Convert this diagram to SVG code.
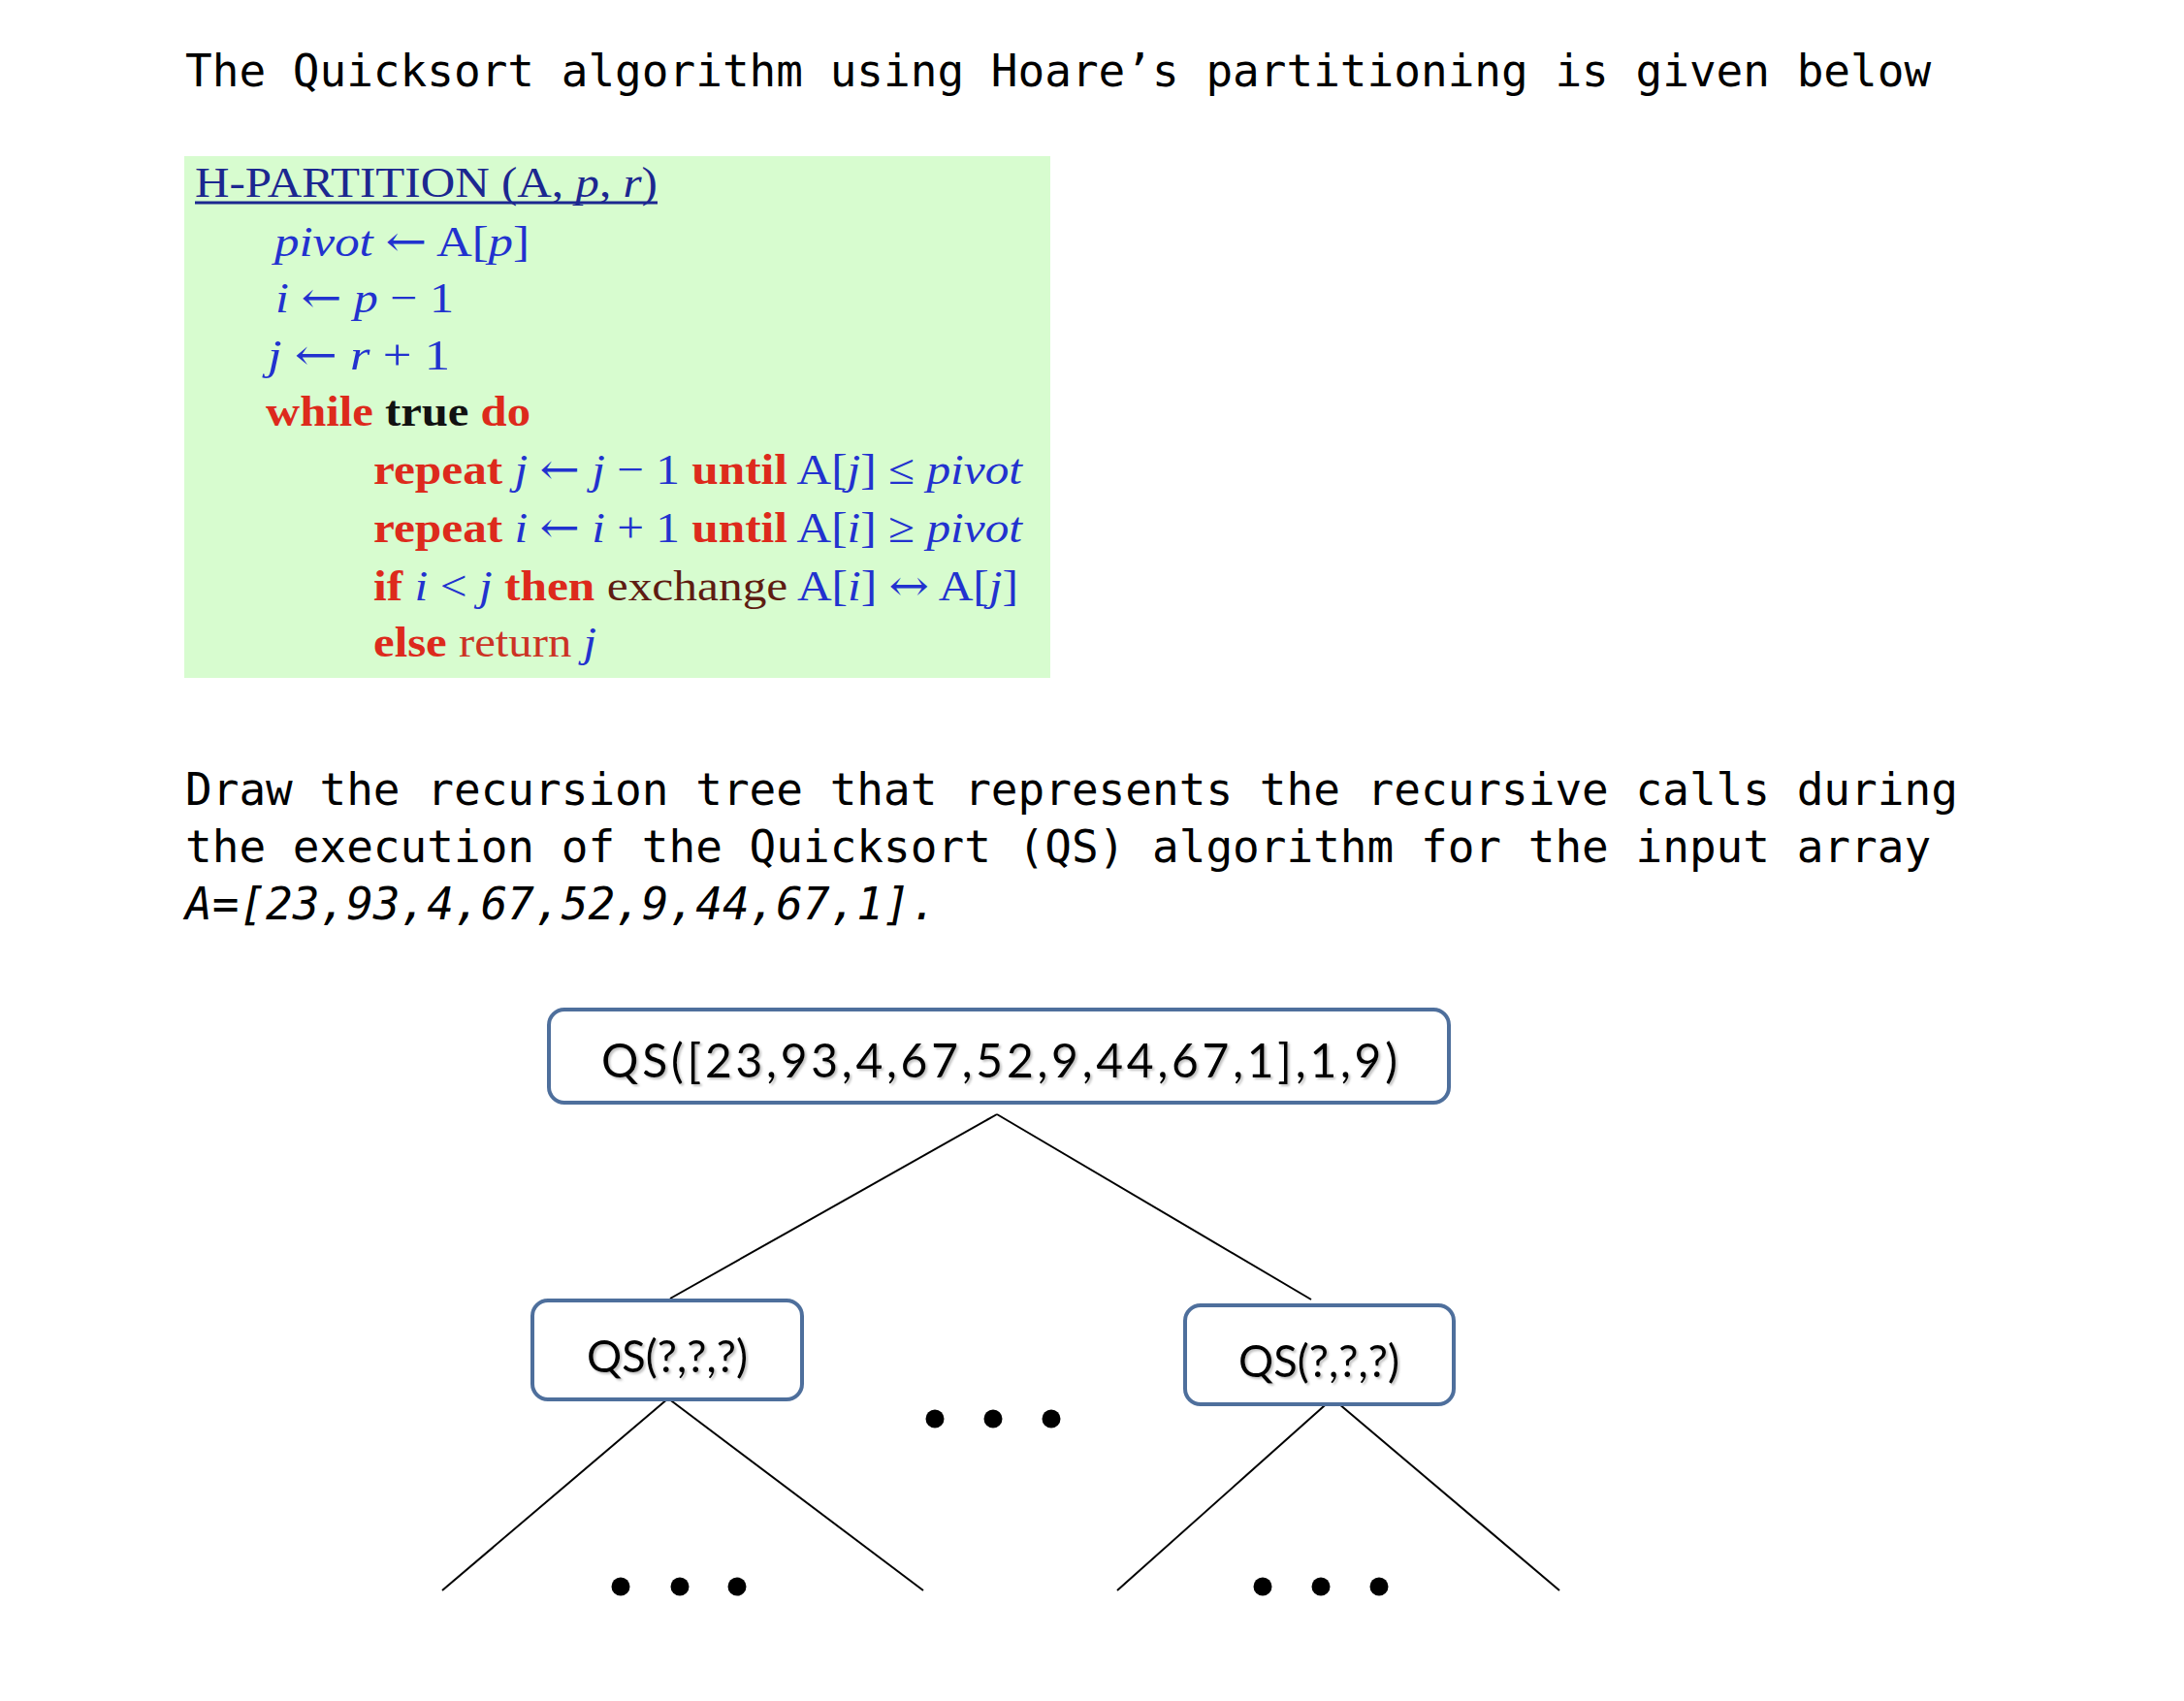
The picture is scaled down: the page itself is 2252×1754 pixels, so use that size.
<svg xmlns="http://www.w3.org/2000/svg" width="2252" height="1754" viewBox="0 0 2252 1754">
<defs>
<style>
.mono{font-family:"DejaVu Sans Mono","Liberation Mono",monospace;font-size:46px;fill:#000}
.code{font-family:"Liberation Serif","DejaVu Serif",serif;font-size:44px}
.ar{font-family:"DejaVu Serif","Liberation Serif",serif;font-style:normal}
.hd{fill:#1c2790}
.bl{fill:#2232cf}
.rd{fill:#dd2a1c;font-weight:bold}
.rr{fill:#cc3324}
.bk{fill:#111;font-weight:bold}
.br{fill:#5e1c12}
.it{font-style:italic}
.box{fill:#fff;stroke:#4e6f9c;stroke-width:4}
.lbl{font-family:Lato,"Open Sans","Liberation Sans",sans-serif;fill:#000}
.edge{stroke:#000;stroke-width:2;fill:none}
.dot{fill:#000}
</style>
<filter id="ts" x="-5%" y="-20%" width="110%" height="140%">
<feDropShadow dx="2" dy="2" stdDeviation="1.2" flood-color="#777" flood-opacity="0.45"/>
</filter>
</defs>
<rect width="2252" height="1754" fill="#fff"/>

<g id="intro">
<text class="mono" x="191" y="89">The Quicksort algorithm using Hoare’s partitioning is given below</text>
</g>

<g id="code-box">
<rect x="190" y="161" width="893" height="538" fill="#d7fccf"/>
<text class="code hd" x="201" y="203" textLength="477" lengthAdjust="spacingAndGlyphs">H-PARTITION (A, <tspan class="it">p</tspan>, <tspan class="it">r</tspan>)</text>
<line x1="201" y1="209" x2="678" y2="209" stroke="#1c2790" stroke-width="3"/>
<text class="code bl" x="283" y="264" textLength="263" lengthAdjust="spacingAndGlyphs"><tspan class="it">pivot</tspan> <tspan class="ar">←</tspan> A[<tspan class="it">p</tspan>]</text>
<text class="code bl" x="284" y="322" textLength="184" lengthAdjust="spacingAndGlyphs"><tspan class="it">i</tspan> <tspan class="ar">←</tspan> <tspan class="it">p</tspan> − 1</text>
<text class="code bl" x="276" y="381" textLength="188" lengthAdjust="spacingAndGlyphs"><tspan class="it">j</tspan> <tspan class="ar">←</tspan> <tspan class="it">r</tspan> + 1</text>
<text class="code" x="274" y="439" textLength="273" lengthAdjust="spacingAndGlyphs"><tspan class="rd">while</tspan><tspan class="bk"> true</tspan><tspan class="rd"> do</tspan></text>
<text class="code" x="385" y="499" textLength="669" lengthAdjust="spacingAndGlyphs"><tspan class="rd">repeat</tspan><tspan class="bl"> <tspan class="it">j</tspan> <tspan class="ar">←</tspan> <tspan class="it">j</tspan> − 1 </tspan><tspan class="rd">until</tspan><tspan class="bl"> A[<tspan class="it">j</tspan>] ≤ <tspan class="it">pivot</tspan></tspan></text>
<text class="code" x="385" y="559" textLength="669" lengthAdjust="spacingAndGlyphs"><tspan class="rd">repeat</tspan><tspan class="bl"> <tspan class="it">i</tspan> <tspan class="ar">←</tspan> <tspan class="it">i</tspan> + 1 </tspan><tspan class="rd">until</tspan><tspan class="bl"> A[<tspan class="it">i</tspan>] ≥ <tspan class="it">pivot</tspan></tspan></text>
<text class="code" x="385" y="619" textLength="665" lengthAdjust="spacingAndGlyphs"><tspan class="rd">if</tspan><tspan class="bl"> <tspan class="it">i</tspan> &lt; <tspan class="it">j</tspan></tspan><tspan class="rd"> then</tspan><tspan class="br"> exchange</tspan><tspan class="bl"> A[<tspan class="it">i</tspan>] <tspan class="ar">↔</tspan> A[<tspan class="it">j</tspan>]</tspan></text>
<text class="code" x="385" y="677" textLength="230" lengthAdjust="spacingAndGlyphs"><tspan class="rd">else</tspan><tspan class="rr"> return</tspan><tspan class="bl it"> j</tspan></text>
</g>

<g id="task">
<text class="mono" x="191" y="830">Draw the recursion tree that represents the recursive calls during</text>
<text class="mono" x="191" y="889">the execution of the Quicksort (QS) algorithm for the input array</text>
<text class="mono" x="191" y="948" font-style="italic">A=[23,93,4,67,52,9,44,67,1].</text>
</g>

<g id="connectors">
<line class="edge" x1="1028" y1="1149" x2="691" y2="1339"/>
<line class="edge" x1="1028" y1="1149" x2="1352" y2="1340"/>
<line class="edge" x1="689" y1="1442" x2="456" y2="1640"/>
<line class="edge" x1="689" y1="1442" x2="952" y2="1640"/>
<line class="edge" x1="1374" y1="1442" x2="1152" y2="1640"/>
<line class="edge" x1="1374" y1="1442" x2="1608" y2="1640"/>
</g>

<g id="node-root">
<rect class="box" x="566" y="1041" width="928" height="96" rx="16"/>
<text class="lbl" x="620" y="1111" font-size="48" textLength="821" lengthAdjust="spacing" filter="url(#ts)">QS([23,93,4,67,52,9,44,67,1],1,9)</text>
</g>

<g id="node-left">
<rect class="box" x="549" y="1341" width="278" height="102" rx="16"/>
<text class="lbl" x="605" y="1415" font-size="47" textLength="166" lengthAdjust="spacingAndGlyphs" filter="url(#ts)">QS(?,?,?)</text>
</g>

<g id="node-right">
<rect class="box" x="1222" y="1346" width="277" height="102" rx="16"/>
<text class="lbl" x="1277" y="1420" font-size="47" textLength="166" lengthAdjust="spacingAndGlyphs" filter="url(#ts)">QS(?,?,?)</text>
</g>

<g id="ellipsis-middle">
<circle class="dot" cx="964" cy="1463" r="9.5"/>
<circle class="dot" cx="1024" cy="1463" r="9.5"/>
<circle class="dot" cx="1084" cy="1463" r="9.5"/>
</g>
<g id="ellipsis-left">
<circle class="dot" cx="640" cy="1636" r="9.5"/>
<circle class="dot" cx="701" cy="1636" r="9.5"/>
<circle class="dot" cx="760" cy="1636" r="9.5"/>
</g>
<g id="ellipsis-right">
<circle class="dot" cx="1302" cy="1636" r="9.5"/>
<circle class="dot" cx="1362" cy="1636" r="9.5"/>
<circle class="dot" cx="1422" cy="1636" r="9.5"/>
</g>
</svg>
